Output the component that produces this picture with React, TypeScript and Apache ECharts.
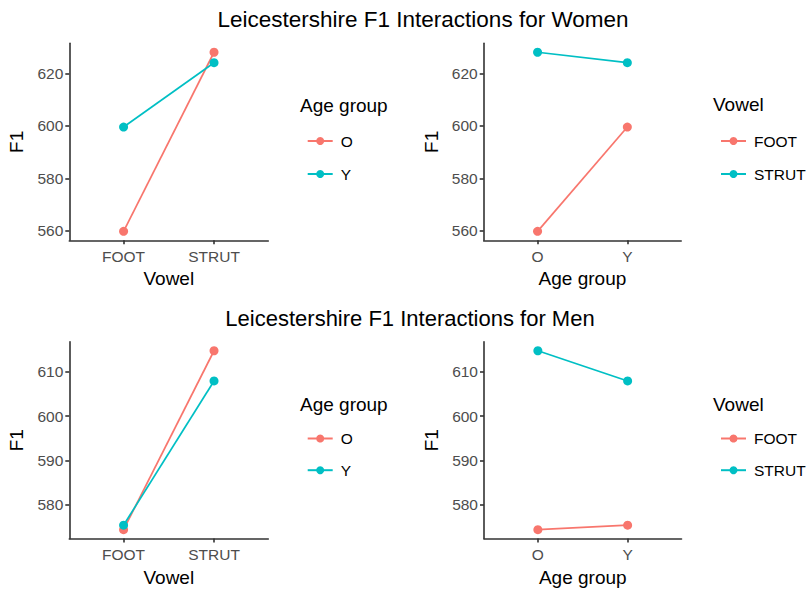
import React, { useEffect, useRef } from "react";
import * as echarts from "echarts";

const vowels = ["FOOT", "STRUT"];
const ageGroups = ["O", "Y"];
// F1 by vowel (FOOT, STRUT) for each age group
const womenO = [559.7, 628.2];
const womenY = [599.6, 624.2];
const menO = [574.4, 614.7];
const menY = [575.4, 607.9];
const womenTicks = [560, 580, 600, 620];
const menTicks = [580, 590, 600, 610];

const RED = "#F8766D";
const TEAL = "#00BFC4";
const FONT = "Liberation Sans, Arial, sans-serif";

function expand(vals: number[]): [number, number] {
  const mn = Math.min(...vals);
  const mx = Math.max(...vals);
  const r = mx - mn;
  return [mn - 0.05 * r, mx + 0.05 * r];
}

export default function App() {
  const ref = useRef<HTMLDivElement>(null);
  useEffect(() => {
    if (!ref.current) return;
    const chart = echarts.init(ref.current, null, { renderer: "svg" });

    const grids = [
      { left: 69.3, top: 43.3, width: 199, height: 197 },
      { left: 483.7, top: 43.3, width: 197.5, height: 197 },
      { left: 69.3, top: 341.8, width: 199, height: 196.8 },
      { left: 484, top: 341.8, width: 197.5, height: 196.8 },
    ];
    const xCats = [vowels, ageGroups, vowels, ageGroups];
    const xNames = ["Vowel", "Age group", "Vowel", "Age group"];
    const wRange = expand([...womenO, ...womenY]);
    const mRange = expand([...menO, ...menY]);
    const yRanges = [wRange, wRange, mRange, mRange];
    const yTicks = [womenTicks, womenTicks, menTicks, menTicks];

    const axisLine = { show: true, lineStyle: { color: "#333", width: 1.6 } };
    const axisTick = (vals: number[]) => ({
      show: true,
      length: 4,
      customValues: vals,
      lineStyle: { color: "#333", width: 1.6 },
    });

    const xAxis = grids.map((_, i) => ({
      type: "value",
      gridIndex: i,
      min: 0.4,
      max: 2.6,
      axisLine,
      axisTick: axisTick([1, 2]),
      splitLine: { show: false },
      axisLabel: {
        customValues: [1, 2],
        formatter: (v: number) => xCats[i][Math.round(v) - 1] ?? "",
        color: "#4D4D4D",
        fontSize: 15.5,
        fontFamily: FONT,
        margin: 8,
      },
      name: xNames[i],
      nameLocation: "middle",
      nameGap: 29,
      nameTextStyle: { color: "#000", fontSize: 19, fontFamily: FONT },
    }));

    const yAxis = grids.map((_, i) => ({
      type: "value",
      gridIndex: i,
      min: yRanges[i][0],
      max: yRanges[i][1],
      axisLine,
      axisTick: axisTick(yTicks[i]),
      splitLine: { show: false },
      axisLabel: {
        customValues: yTicks[i],
        color: "#4D4D4D",
        fontSize: 15.5,
        fontFamily: FONT,
        margin: 6,
      },
      name: "F1",
      nameLocation: "middle",
      nameGap: 43,
      nameTextStyle: { color: "#000", fontSize: 19, fontFamily: FONT },
    }));

    const mk = (name: string, color: string, idx: number, vals: number[]) => ({
      type: "line",
      name,
      xAxisIndex: idx,
      yAxisIndex: idx,
      data: vals.map((v, j) => [j + 1, v]),
      symbol: "circle",
      symbolSize: 9,
      color,
      itemStyle: { color },
      lineStyle: { color, width: 1.7 },
      emphasis: { disabled: true },
    });

    const series = [
      mk("O", RED, 0, womenO),
      mk("Y", TEAL, 0, womenY),
      mk("FOOT", RED, 1, [womenO[0], womenY[0]]),
      mk("STRUT", TEAL, 1, [womenO[1], womenY[1]]),
      mk("O", RED, 2, menO),
      mk("Y", TEAL, 2, menY),
      mk("FOOT", RED, 3, [menO[0], menY[0]]),
      mk("STRUT", TEAL, 3, [menO[1], menY[1]]),
    ];

    const legendBase = {
      orient: "vertical",
      itemWidth: 25,
      itemHeight: 10,
      selectedMode: false,
      textStyle: {
        color: "#000",
        fontSize: 15.5,
        fontFamily: FONT,
        lineHeight: 16,
        padding: [0, 0, 0, 3],
      },
    };
    const legend = [
      { ...legendBase, data: ageGroups, left: 301.7, top: 128, itemGap: 17 },
      { ...legendBase, data: vowels, left: 715, top: 128, itemGap: 17 },
      { ...legendBase, data: ageGroups, left: 301.7, top: 425.5, itemGap: 15.7 },
      { ...legendBase, data: vowels, left: 715, top: 425.5, itemGap: 15.7 },
    ];

    const txt = (text: string, x: number, y: number, size: number, align = "left") => ({
      type: "text",
      x,
      y,
      style: {
        text,
        fill: "#000",
        fontSize: size,
        fontFamily: FONT,
        align,
        verticalAlign: "middle",
      },
    });

    chart.setOption({
      animation: false,
      backgroundColor: "#fff",
      grid: grids,
      xAxis,
      yAxis,
      series,
      legend,
      graphic: [
        txt("Leicestershire F1 Interactions for Women", 423, 19.3, 22.5, "center"),
        txt("Leicestershire F1 Interactions for Men", 410, 318.3, 22, "center"),
        txt("Age group", 300, 105.5, 19),
        txt("Vowel", 713, 104.5, 19),
        txt("Age group", 300, 404, 19),
        txt("Vowel", 713, 404, 19),
      ],
    });
    return () => chart.dispose();
  }, []);
  return (
    <div
      ref={ref}
      style={{ position: "fixed", left: 0, top: 0, width: 810, height: 589 }}
    />
  );
}
